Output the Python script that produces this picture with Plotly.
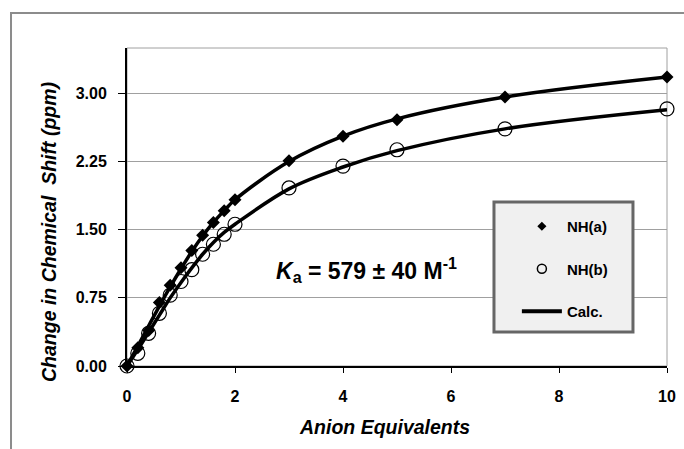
import plotly.graph_objects as go

# ---- data ----
equiv = [0, 0.2, 0.4, 0.6, 0.8, 1.0, 1.2, 1.4, 1.6, 1.8, 2.0, 3, 4, 5, 7, 10]
nh_a = [0, 0.20, 0.39, 0.70, 0.89, 1.08, 1.27, 1.44, 1.58, 1.71, 1.83, 2.26, 2.53, 2.71, 2.96, 3.18]
nh_b = [0, 0.14, 0.36, 0.58, 0.78, 0.93, 1.06, 1.23, 1.34, 1.45, 1.56, 1.96, 2.20, 2.38, 2.61, 2.83]
calc_a = [0, 0.22, 0.44, 0.66, 0.87, 1.07, 1.26, 1.43, 1.58, 1.71, 1.83, 2.25, 2.53, 2.72, 2.96, 3.18]
calc_b = [0, 0.18, 0.37, 0.56, 0.75, 0.92, 1.08, 1.23, 1.36, 1.47, 1.56, 1.95, 2.19, 2.37, 2.61, 2.82]
x_ticks = [0, 2, 4, 6, 8, 10]
y_ticks = [0.0, 0.75, 1.5, 2.25, 3.0]
y_tick_labels = ["0.00", "0.75", "1.50", "2.25", "3.00"]
x_title = "Anion Equivalents"
y_title = "Change in Chemical\u00a0 Shift (ppm)"
ka_text = "<i>K</i><sub>a</sub> = 579 ± 40 M<sup>-1</sup>"

FONT = "Liberation Sans, Arial, sans-serif"

fig = go.Figure()

# calculated curves
for cy in (calc_a, calc_b):
    fig.add_trace(go.Scatter(x=equiv, y=cy, mode="lines", line=dict(color="black", width=3.5, shape="spline"),
                             showlegend=False, hoverinfo="skip", cliponaxis=False))

# data points
fig.add_trace(go.Scatter(x=equiv, y=nh_a, mode="markers", name="NH(a)", showlegend=False,
                         marker=dict(symbol="diamond", size=10, color="black"), cliponaxis=False))
fig.add_trace(go.Scatter(x=equiv, y=nh_b, mode="markers", name="NH(b)", showlegend=False,
                         marker=dict(symbol="circle-open", size=14, color="black", line=dict(width=1.2)),
                         cliponaxis=False))

# legend entries
fig.add_trace(go.Scatter(x=[None], y=[None], mode="markers", name="NH(a)", legendgroup="a",
                         marker=dict(symbol="diamond", size=7, color="black")))
fig.add_trace(go.Scatter(x=[None], y=[None], mode="markers", name="NH(b)", legendgroup="b",
                         marker=dict(symbol="circle-open", size=9, color="black", line=dict(width=1.5))))
fig.add_trace(go.Scatter(x=[None], y=[None], mode="lines", name="Calc.", legendgroup="c",
                         line=dict(color="black", width=4)))

title_font = dict(family=FONT, size=19.5, weight="bold", style="italic", color="black")

fig.update_layout(
    width=684, height=449,
    margin=dict(l=127, r=17, t=48, b=83),
    paper_bgcolor="white", plot_bgcolor="white",
    font=dict(family=FONT, color="black"),
    showlegend=True,
    legend=dict(x=0.722, y=0.4906, xanchor="left", yanchor="top", bgcolor="rgba(0,0,0,0)",
                borderwidth=0, itemwidth=40, tracegroupgap=20,
                font=dict(family=FONT, size=15, weight="bold")),
    xaxis=dict(range=[0, 10], tickvals=x_ticks, showgrid=False, zeroline=False, automargin=False,
               showline=True, linecolor="black", linewidth=2,
               ticks="outside", ticklen=5, tickwidth=1, tickcolor="black",
               ticklabelstandoff=10,
               tickfont=dict(family=FONT, size=16, weight="bold")),
    yaxis=dict(range=[0, 3.5], tickvals=y_ticks, ticktext=y_tick_labels, automargin=False,
               showgrid=True, gridcolor="#a0a0a0", gridwidth=1, zeroline=False,
               showline=True, linecolor="black", linewidth=2,
               ticks="outside", ticklen=7, tickwidth=1, tickcolor="black",
               ticklabelstandoff=8,
               tickfont=dict(family=FONT, size=16, weight="bold")),
    shapes=[
        # plot area border (top / right in gray)
        dict(type="rect", xref="paper", yref="paper", x0=0, x1=1, y0=0, y1=1,
             line=dict(color="#a0a0a0", width=1), layer="below"),
        # outer chart frame
        dict(type="rect", xref="paper", yref="paper", x0=-0.2148, x1=1.06, y0=-0.3, y1=1.1101,
             line=dict(color="#8c8c8c", width=2), layer="below"),
        # legend box
        dict(type="rect", xref="paper", yref="paper", x0=0.6796, x1=0.937, y0=0.1069, y1=0.5157,
             line=dict(color="#666666", width=3), fillcolor="#f0f0f0", layer="above"),
    ],
    annotations=[
        dict(x=4.43, y=1.06, xref="x", yref="y", text=ka_text, showarrow=False,
             xanchor="center", yanchor="middle",
             font=dict(family=FONT, size=23, weight="bold", color="black")),
        # axis titles
        dict(x=0.4769, y=-0.1918, xref="paper", yref="paper", text=x_title, showarrow=False,
             xanchor="center", yanchor="middle", font=title_font),
        dict(x=-0.1444, y=0.4214, xref="paper", yref="paper", text=y_title, showarrow=False,
             textangle=-90, xanchor="center", yanchor="middle", font=title_font),
    ],
)

fig.write_html("out.html", config={"displayModeBar": False},
               post_script="document.body.style.margin='0';")
